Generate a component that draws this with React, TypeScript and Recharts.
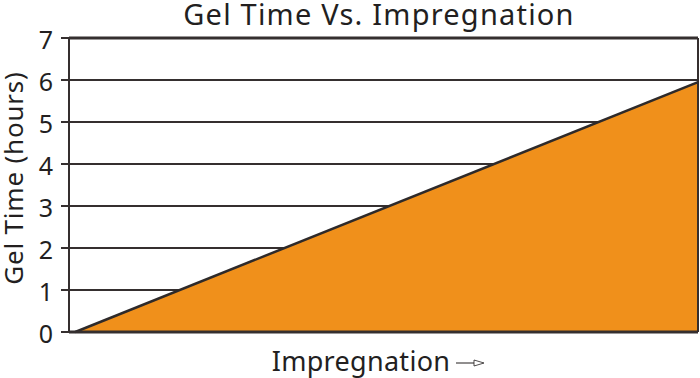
import { Area, AreaChart, CartesianGrid, Label, ReferenceLine, XAxis, YAxis } from "recharts";

const impregnation = [0, 100];
const gelTime = [0, 5.95];
const yTicks = [0, 1, 2, 3, 4, 5, 6, 7];

const data = impregnation.map((x, i) => ({ x, gel: gelTime[i] }));

const FONT = "'Noto Sans', 'Open Sans', sans-serif";
const INK = "#352f2f";
const TEXT = "#231f1f";

function renderXLabel() {
  const cx = 361;
  return (
    <g>
      <text x={cx} y={371} textAnchor="middle" fontSize={27} fontFamily={FONT} fill={TEXT} letterSpacing={0.3}>
        Impregnation
      </text>
      <line x1={456} y1={363} x2={478} y2={363} stroke={TEXT} strokeWidth={1} />
      <path d="M 474 360 L 484 363 L 474 366 Z" fill="white" stroke={TEXT} strokeWidth={0.8} />
    </g>
  );
}

export default function App() {
  return (
    <div style={{ position: "absolute", left: 0, top: 0, width: 700, height: 378, background: "#fff" }}>
      <AreaChart width={700} height={378} data={data} margin={{ top: 38, right: 2, left: 0, bottom: 0 }}>
        <text x={379} y={25} textAnchor="middle" fontSize={29} fontFamily={FONT} fill={TEXT} letterSpacing={1.2}>
          Gel Time Vs. Impregnation
        </text>
        <text
          x={23}
          y={178}
          transform="rotate(-90, 23, 178)"
          textAnchor="middle"
          fontSize={26}
          fontFamily={FONT}
          fill={TEXT}
          letterSpacing={0.8}
        >
          Gel Time (hours)
        </text>
        <CartesianGrid vertical={false} stroke={INK} strokeWidth={2} strokeOpacity={1} />
        <XAxis
          dataKey="x"
          type="number"
          domain={[-1, 100]}
          tick={false}
          axisLine={false}
          tickLine={false}
          height={46}
        >
          <Label content={renderXLabel} />
        </XAxis>
        <YAxis
          domain={[0, 7]}
          ticks={yTicks}
          width={69}
          axisLine={{ stroke: INK, strokeWidth: 2 }}
          tickLine={{ stroke: INK, strokeWidth: 2 }}
          tickSize={8}
          tick={{ fontSize: 25, fontFamily: FONT, fill: TEXT, dy: 2, dx: -6 }}
        />
        <Area
          type="linear"
          dataKey="gel"
          fill="#f0901b"
          fillOpacity={1}
          stroke="#2e2a2a"
          strokeWidth={2.5}
          isAnimationActive={false}
        />
        <ReferenceLine y={0} stroke={INK} strokeWidth={3} />
        <ReferenceLine y={7} stroke={INK} strokeWidth={3} />
        <ReferenceLine x={100} stroke={INK} strokeWidth={2} />
      </AreaChart>
    </div>
  );
}
